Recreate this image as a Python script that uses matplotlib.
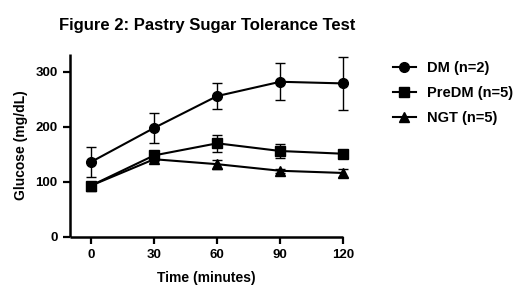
"""
Pastry sugar tolerance test: glucose over time for three groups.
"""
import matplotlib
matplotlib.use("Agg")
import matplotlib.pyplot as plt

plt.rcParams['font.family'] = ['Liberation Sans', 'DejaVu Sans']
plt.rcParams['font.weight'] = 'bold'

# Time points (minutes)
times = [0, 30, 60, 90, 120]

# Mean glucose (mg/dL) and error per group
dm_mean = [136, 198, 256, 282, 279]
dm_err = [27, 28, 24, 34, 48]
predm_mean = [93, 148, 170, 156, 151]
predm_err = [3, 4, 15, 13, 6]
ngt_mean = [93, 141, 132, 120, 116]
ngt_err = [3, 3, 8, 4, 8]

groups = [
    ("DM (n=2)", dm_mean, dm_err, "o", 7),
    ("PreDM (n=5)", predm_mean, predm_err, "s", 7),
    ("NGT (n=5)", ngt_mean, ngt_err, "^", 7),
]

fig = plt.figure(figsize=(5.2, 3.01), dpi=100)
ax = fig.add_axes([0.1346, 0.2136, 0.5257, 0.606])

for name, mean, err, marker, ms in groups:
    cont = ax.errorbar(times, mean, yerr=err, color="black", marker=marker,
                       markersize=ms, linewidth=1.5, elinewidth=1.0,
                       capsize=3.5, capthick=1.0, label=name)
    for art in cont.get_children():
        art.set_clip_on(False)

ax.set_xlim(-10, 120)
ax.set_ylim(0, 332)
ax.set_xticks(times)
ax.set_yticks([0, 100, 200, 300])
ax.spines['top'].set_visible(False)
ax.spines['right'].set_visible(False)
for s in ('left', 'bottom'):
    ax.spines[s].set_linewidth(1.8)
    ax.spines[s].set_capstyle('butt')
ax.tick_params(direction='out', length=5, width=1.6, labelsize=9.5, pad=4)
for lab in ax.get_xticklabels() + ax.get_yticklabels():
    lab.set_fontweight('bold')

ax.set_xlabel("Time (minutes)", fontsize=10, fontweight='bold', labelpad=7)
ax.set_ylabel("Glucose (mg/dL)", fontsize=10, fontweight='bold', labelpad=5)

fig.text(0.398, 0.915, "Figure 2: Pastry Sugar Tolerance Test",
         ha='center', va='center', fontsize=12, fontweight='bold')

handles, labels = ax.get_legend_handles_labels()
handles = [h[0] for h in handles]
fig.legend(handles, labels, loc='upper left', bbox_to_anchor=(0.73, 0.84),
           frameon=False, handlelength=1.6, handletextpad=0.75,
           labelspacing=0.75, prop={'weight': 'bold', 'size': 10.5})

fig.savefig("out.png", dpi=100)
